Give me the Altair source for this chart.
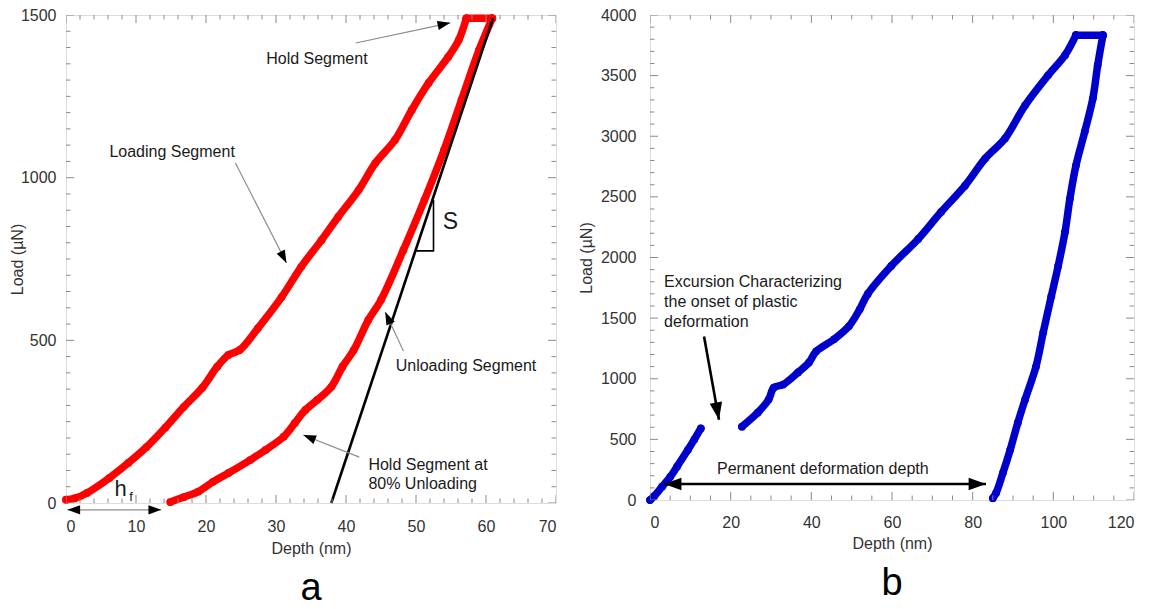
import math
import altair as alt
import pandas as pd

FONT = "Liberation Sans"
RED = "#ff0000"
BLUE = "#0000cc"
FRAME = "#a0a0a0"
TICK = "#8a8a8a"
LABEL = "#333333"
INK = "#1a1a1a"

# ---------------- panel a : load-displacement curve (depth nm, load µN) ----------------
a_loading_depth = [0, 1.2, 3, 6.2, 8.9, 11.5, 14.2, 16.8, 19.5, 21.6, 23.2, 24.8, 27.4,
                   30.8, 33.6, 36.5, 38.9, 41.8, 44.2, 47, 49.4, 51.8, 54.6, 56.1, 57.2]
a_loading_load = [10, 14, 31, 77, 123, 172, 232, 295, 355, 419, 455, 470, 537,
                  633, 726, 808, 880, 962, 1045, 1116, 1208, 1291, 1371, 1423, 1490]
a_hold_depth = [57.2, 60.9]
a_hold_load = [1490, 1490]
a_unloading_depth = [60.9, 59.0, 56.5, 54.0, 51.2, 48.2, 45.0, 43.2, 41.1, 39.5, 37.9,
                     35.9, 34.2, 32.7, 31.1, 28.5, 26.3, 23.2, 21, 18.9, 16.8, 14.9]
a_unloading_load = [1490, 1392, 1239, 1085, 931, 778, 624, 563, 470, 419, 357,
                    317, 286, 246, 204, 163, 132, 92, 65, 35, 18, 3]

# contact stiffness tangent and its slope triangle
a_tangent_depth = [37.9, 61.0]
a_tangent_load = [0, 1490]
a_slope_depth = [49.9, 52.5, 52.5]
a_slope_load = [775, 775, 931]

# ---------------- panel b : curve with pop-in excursion ----------------
b_elastic_depth = [0, 1, 3, 5, 6.7, 9.4, 11, 12.6]
b_elastic_load = [0, 30, 110, 190, 275, 414, 500, 590]
b_loading_depth = [22.8, 26.7, 29.4, 30.7, 33, 36.7, 39.4, 41.2, 45.6, 49.3, 52, 54,
                   59.8, 66.5, 72.2, 78.1, 83.1, 88, 93, 98.7, 102.9, 105.6]
b_loading_load = [605, 720, 828, 927, 952, 1052, 1134, 1226, 1325, 1433, 1573, 1700,
                  1930, 2153, 2377, 2592, 2816, 2981, 3255, 3503, 3669, 3834]
b_hold_depth = [105.6, 112.3]
b_hold_load = [3834, 3834]
b_unloading_depth = [112.3, 111, 109.8, 107.8, 105.6, 104.1, 102.9, 101.2, 99.5, 97.5,
                     95.7, 93, 91.2, 89.3, 87.5, 85.8, 85]
b_unloading_load = [3834, 3586, 3313, 3039, 2758, 2484, 2211, 1930, 1681, 1383,
                    1101, 828, 638, 414, 224, 58, 15]

# axis labels and tick positions
a_x_labels = [0, 10, 20, 30, 40, 50, 60, 70]
a_y_labels = [0, 500, 1000, 1500]
a_x_ticks = list(range(0, 71, 2))
a_y_ticks = list(range(0, 1501, 50))
b_x_labels = [0, 20, 40, 60, 80, 100, 120]
b_y_labels = [0, 500, 1000, 1500, 2000, 2500, 3000, 3500, 4000]
b_x_ticks = list(range(0, 121, 5))
b_y_ticks = list(range(0, 4001, 100))

# annotation texts: (text, depth, load, align, size)
a_notes = [
    ("Hold Segment", 28.6, 1365, "left", 16),
    ("Loading Segment", 6.2, 1079, "left", 16),
    ("Unloading Segment", 47.1, 421, "left", 16),
    ("Hold Segment at", 43.2, 117, "left", 16),
    ("80% Unloading", 43.2, 58, "left", 16),
    ("S", 54.9, 864, "center", 23),
    ("h", 7.8, 43, "center", 22),
    ("f", 9.3, 18, "center", 13),
]
b_notes = [
    ("Excursion Characterizing", 3.5, 1796, "left", 16),
    ("the onset of plastic", 3.5, 1631, "left", 16),
    ("deformation", 3.5, 1465, "left", 16),
    ("Permanent deformation depth", 16.6, 257, "left", 16),
]

# arrows: (start depth, start load, tip depth, tip load, double-headed)
a_arrows = [
    (41.4, 1414, 54.9, 1476, False),
    (24.2, 1045, 31.5, 738, False),
    (48.2, 467, 45.6, 587, False),
    (41.9, 141, 33.9, 209, False),
    (0.2, -21, 13.6, -21, True),
]
b_arrows = [
    (13.4, 1349, 17.1, 662, False),
    (3.5, 132, 83.3, 132, True),
]

A_W, A_H = 490, 488
B_W, B_H = 484, 485

HEAD = "M0,0L0.36,1L-0.36,1Z"


def path_frame(segments):
    rows = []
    for k, (depth, load) in enumerate(segments):
        for d, l in zip(depth, load):
            rows.append({"depth": d, "load": l, "seg": k, "seq": len(rows)})
    return pd.DataFrame(rows)


def arrow_frames(arrows, sx, sy):
    lines, heads = [], []
    for i, (x0, y0, x1, y1, both) in enumerate(arrows):
        lines.append({"depth": x0, "load": y0, "aid": i, "seq": 0})
        lines.append({"depth": x1, "load": y1, "aid": i, "seq": 1})
        ends = [(x0, y0, x1, y1)]
        if both:
            ends.append((x1, y1, x0, y0))
        for a0, b0, a1, b1 in ends:
            dx = (a1 - a0) * sx
            dy = -(b1 - b0) * sy
            ang = math.degrees(math.atan2(dx, -dy)) % 360
            heads.append({"depth": a1, "load": b1, "ang": ang})
    return pd.DataFrame(lines), pd.DataFrame(heads)


def tick_frame(values, major):
    return pd.DataFrame({"depth": values, "load": values,
                         "len": [16 if v % major == 0 else 9 for v in values]})


def make_panel(segments, color, xdom, ydom, W, H, xlabels, ylabels, xticks, yticks,
               xmajor, ymajor, notes, arrows, arrow_color, arrow_width, head_size,
               ylabel_pad, ytitle_x, xlabel_pad, xtitle_y, tag, extra=None):
    xs = alt.Scale(domain=list(xdom), nice=False, zero=False)
    ys = alt.Scale(domain=list(ydom), nice=False, zero=False)
    sx = W / (xdom[1] - xdom[0])
    sy = H / (ydom[1] - ydom[0])

    xaxis = alt.Axis(values=xlabels, format="d", title="Depth (nm)", ticks=False, domain=False,
                     grid=False, labelPadding=xlabel_pad, labelFont=FONT, labelFontSize=16,
                     labelColor=LABEL, titleFont=FONT, titleFontSize=16, titleFontWeight="normal",
                     titleColor=LABEL, titleX=W / 2, titleY=xtitle_y, titleBaseline="top")
    yaxis = alt.Axis(values=ylabels, format="d", title="Load (µN)", ticks=False, domain=False,
                     grid=False, labelPadding=ylabel_pad, labelFont=FONT, labelFontSize=16,
                     labelColor=LABEL, titleFont=FONT, titleFontSize=16, titleFontWeight="normal",
                     titleColor=LABEL, titleX=ytitle_x, titleY=H / 2, titleAngle=270,
                     titleBaseline="bottom")

    # every layer carries the same scale and axis so they merge into one
    X = lambda f: alt.X(f, scale=xs, axis=xaxis)
    Y = lambda f: alt.Y(f, scale=ys, axis=yaxis)

    layers = []
    curve = path_frame(segments)
    base = alt.Chart(curve)
    layers.append(base.mark_line(color=color, strokeWidth=7.5, strokeCap="round",
                                 strokeJoin="round", interpolate="catmull-rom")
                  .encode(x=X("depth:Q"), y=Y("load:Q"), detail="seg:N", order="seq:Q"))
    layers.append(base.mark_circle(color=color, size=60, opacity=1)
                  .encode(x=X("depth:Q"), y=Y("load:Q")))

    if extra is not None:
        layers.extend(extra(X, Y))

    # inward ticks on all four sides of the frame
    xt = tick_frame(xticks, xmajor)
    yt = tick_frame(yticks, ymajor)
    tick_kw = dict(clip=True, color=TICK, thickness=1, opacity=1)
    for ypos in (H, 0):
        layers.append(alt.Chart(xt).mark_tick(orient="vertical", **tick_kw).encode(
            x=X("depth:Q"), y=alt.value(ypos), size=alt.Size("len:Q", scale=None)))
    for xpos in (0, W):
        layers.append(alt.Chart(yt).mark_tick(orient="horizontal", **tick_kw).encode(
            y=Y("load:Q"), x=alt.value(xpos), size=alt.Size("len:Q", scale=None)))

    # arrows
    ln, hd = arrow_frames(arrows, sx, sy)
    layers.append(alt.Chart(ln).mark_line(color=arrow_color, strokeWidth=arrow_width).encode(
        x=X("depth:Q"), y=Y("load:Q"), detail="aid:N", order="seq:Q"))
    layers.append(alt.Chart(hd).mark_point(shape=HEAD, filled=True, color="#000000", opacity=1,
                                           size=head_size, strokeWidth=0).encode(
        x=X("depth:Q"), y=Y("load:Q"), angle=alt.Angle("ang:Q", scale=None)))

    # annotation text
    for text, d, l, align, size in notes:
        nd = pd.DataFrame({"depth": [d], "load": [l], "t": [text]})
        layers.append(alt.Chart(nd).mark_text(align=align, baseline="middle", font=FONT,
                                               fontSize=size, color=INK).encode(
            x=X("depth:Q"), y=Y("load:Q"), text="t:N"))

    return alt.layer(*layers).properties(
        width=W, height=H,
        title=alt.TitleParams(tag, orient="bottom", anchor="middle", font=FONT, fontSize=38,
                              fontWeight="normal", color="#000000", offset=14))


def a_extra(X, Y):
    tan = pd.DataFrame({"depth": a_tangent_depth, "load": a_tangent_load})
    tri = pd.DataFrame({"depth": a_slope_depth, "load": a_slope_load, "seq": [0, 1, 2]})
    return [
        alt.Chart(tan).mark_line(color="#000000", strokeWidth=2.6).encode(
            x=X("depth:Q"), y=Y("load:Q")),
        alt.Chart(tri).mark_line(color="#000000", strokeWidth=1.6).encode(
            x=X("depth:Q"), y=Y("load:Q"), order="seq:Q"),
    ]


def b_extra(X, Y):
    el = pd.DataFrame({"depth": b_elastic_depth, "load": b_elastic_load,
                       "seq": list(range(len(b_elastic_depth)))})
    return [
        alt.Chart(el).mark_line(color=BLUE, strokeWidth=7.5, strokeCap="round",
                                strokeJoin="round", interpolate="catmull-rom")
        .encode(x=X("depth:Q"), y=Y("load:Q"), order="seq:Q"),
        alt.Chart(el).mark_circle(color=BLUE, size=60, opacity=1)
        .encode(x=X("depth:Q"), y=Y("load:Q")),
    ]


panel_a = make_panel(
    [(a_loading_depth, a_loading_load), (a_hold_depth, a_hold_load),
     (a_unloading_depth, a_unloading_load)],
    RED, (0, 70), (0, 1500), A_W, A_H, a_x_labels, a_y_labels, a_x_ticks, a_y_ticks,
    10, 500, a_notes, a_arrows, "#8c8c8c", 1.2, 650, 10, -41, 15, 37, "a", extra=a_extra)

panel_b = make_panel(
    [(b_loading_depth, b_loading_load), (b_hold_depth, b_hold_load),
     (b_unloading_depth, b_unloading_load)],
    BLUE, (0, 120), (0, 4000), B_W, B_H, b_x_labels, b_y_labels, b_x_ticks, b_y_ticks,
    20, 500, b_notes, b_arrows, "#000000", 2.6, 1200, 14, -56, 14, 35, "b", extra=b_extra)

chart = alt.hconcat(panel_a, panel_b, spacing=94, bounds="flush").properties(
    padding={"left": 8, "top": 6, "right": 0, "bottom": 0}
).configure_view(stroke=FRAME, strokeWidth=1).configure(background="#ffffff")

chart.save("out.html", embed_options={"renderer": "svg", "actions": False})
